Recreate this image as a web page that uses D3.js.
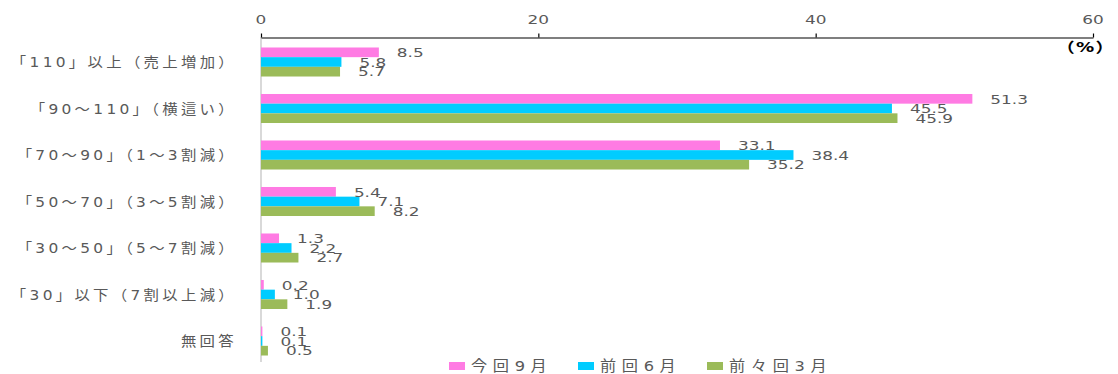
<!DOCTYPE html>
<html>
<head>
<meta charset="utf-8">
<script src="https://cdn.jsdelivr.net/npm/d3@7"></script>
<style>
  html, body { margin: 0; padding: 0; background: #fff; }
  svg { display: block; }
  text { font-family: "DejaVu Sans", "Noto Sans CJK JP", sans-serif; }
</style>
</head>
<body>
<svg id="chart" width="1118" height="374"></svg>
<script>
// Categories (sales compared with the same month last year)
const categories = [
  "「110」以上（売上増加）",
  "「90～110」（横這い）",
  "「70～90」（1～3割減）",
  "「50～70」（3～5割減）",
  "「30～50」（5～7割減）",
  "「30」以下（7割以上減）",
  "無回答"
];
const seriesNames = ["今回9月", "前回6月", "前々回3月"];
const seriesColors = ["#ff7be3", "#00ccff", "#9bbb59"];
const currentSep = [8.5, 51.3, 33.1, 5.4, 1.3, 0.2, 0.1];
const previousJun = [5.8, 45.5, 38.4, 7.1, 2.2, 1.0, 0.1];
const beforeMar = [5.7, 45.9, 35.2, 8.2, 2.7, 1.9, 0.5];
const seriesValues = [currentSep, previousJun, beforeMar];
const xTicks = [0, 20, 40, 60];

const svg = d3.select("#chart");
const textGray = "#595959";

const x = d3.scaleLinear().domain([0, 60]).range([261, 1093]);
const y = d3.scaleBand().domain(categories).range([38.75, 364.25])
  .paddingInner(0.376).paddingOuter(0.188);
const ySub = d3.scaleBand().domain(seriesNames).range([0, y.bandwidth()]);

// stretched text helper
function label(parent, tx, ty, str, opts) {
  const g = parent.append("g").attr("transform", `translate(${tx},${ty}) scale(${opts.sx || 1.25},1)`);
  g.append("text")
    .attr("text-anchor", opts.anchor || "start")
    .attr("dominant-baseline", "central")
    .attr("font-size", opts.size || 13)
    .attr("letter-spacing", opts.ls || 0)
    .attr("font-weight", opts.weight || "normal")
    .attr("fill", opts.fill || textGray)
    .text(str);
  return g;
}

// zero line
svg.append("line")
  .attr("x1", x(0)).attr("x2", x(0))
  .attr("y1", 37).attr("y2", 362)
  .attr("stroke", "#d9d9d9").attr("stroke-width", 2);

// bars
seriesValues.forEach((vals, si) => {
  const name = seriesNames[si];
  svg.append("g").selectAll("rect")
    .data(vals.map((v, i) => ({ v, c: categories[i] })))
    .join("rect")
    .attr("x", x(0))
    .attr("y", d => y(d.c) + ySub(name))
    .attr("width", d => x(d.v) - x(0))
    .attr("height", ySub.bandwidth())
    .attr("fill", seriesColors[si]);
});

// value labels
const valueLayer = svg.append("g");
seriesValues.forEach((vals, si) => {
  const name = seriesNames[si];
  vals.forEach((v, i) => {
    const cy = y(categories[i]) + ySub(name) + ySub.bandwidth() / 2 + 0.5;
    label(valueLayer, x(v) + 18, cy, v.toFixed(1), { size: 13, sx: 1.3 });
  });
});

// top axis
const axis = d3.axisTop(x).tickValues(xTicks).tickSize(4).tickSizeOuter(0).tickFormat("");
const axG = svg.append("g").attr("transform", "translate(0,37.5)").call(axis);
axG.select(".domain").attr("stroke", "#000").attr("stroke-width", 1.2);
axG.selectAll(".tick line").attr("stroke", "#000").attr("stroke-width", 1.2);
xTicks.forEach(t => label(svg, x(t), 20, String(t), { size: 13, anchor: "middle", sx: 1.3 }));
label(svg, 1115, 47, "（%）", { size: 14, anchor: "end", fill: "#000", weight: "bold", sx: 1.3, ls: 1 });

// category labels
categories.forEach(c => {
  label(svg, 237, y(c) + y.bandwidth() / 2, c, { size: 14, anchor: "end", ls: 3, sx: 1.1 });
});

// legend
const legendX = [449, 578, 707];
seriesNames.forEach((n, i) => {
  svg.append("rect").attr("x", legendX[i]).attr("y", 362)
    .attr("width", 16).attr("height", 8).attr("fill", seriesColors[i]);
  label(svg, legendX[i] + 22, 366, n, { size: 14.5, ls: 5, sx: 1.12 });
});
</script>
</body>
</html>
